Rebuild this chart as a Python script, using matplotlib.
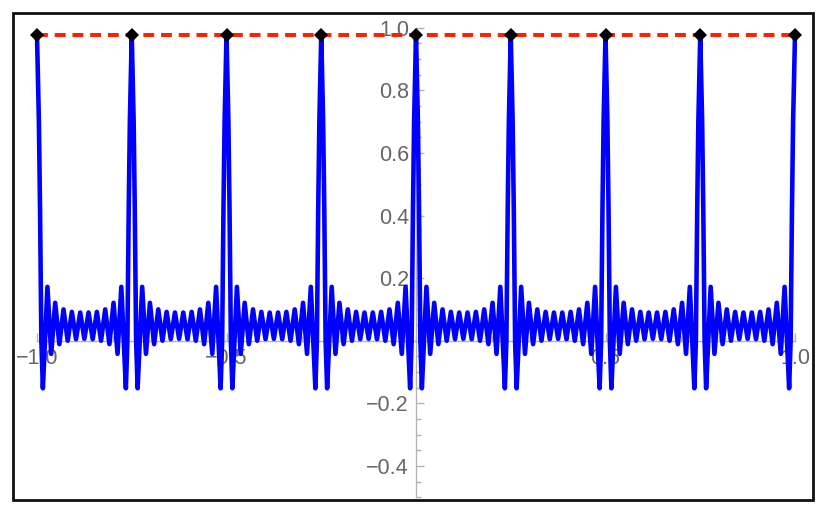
import numpy as np
import matplotlib
matplotlib.use("Agg")
import matplotlib.pyplot as plt
from matplotlib.patches import Rectangle
from matplotlib.ticker import FixedLocator, MultipleLocator

plt.rcParams['font.family'] = ['Liberation Sans', 'DejaVu Sans']

# peak positions and the level reached by each peak
peak_x = [-1.0, -0.75, -0.5, -0.25, 0.0, 0.25, 0.5, 0.75, 1.0]
peak_y = 0.977

# one period of the blue curve (offset from a peak, value)
period_dx = [0.0, 0.005, 0.008, 0.0115, 0.0155, 0.0275, 0.0375, 0.048, 0.059,
             0.070, 0.081, 0.092, 0.103, 0.114, 0.125, 0.136, 0.147, 0.158,
             0.169, 0.180, 0.191, 0.202, 0.2125, 0.2225, 0.2345, 0.2385,
             0.242, 0.245]
period_y = [0.977, 0.70, 0.42, 0.0, -0.152, 0.172, -0.042, 0.121, -0.011,
            0.100, 0.000, 0.092, 0.005, 0.090, 0.006, 0.090, 0.005, 0.092,
            0.000, 0.100, -0.011, 0.121, -0.042, 0.172, -0.152, 0.0,
            0.42, 0.70]

xticks = [-1.0, -0.5, 0.5, 1.0]
yticks = [-0.4, -0.2, 0.2, 0.4, 0.6, 0.8, 1.0]

# build the curve from the repeated period
xs, ys = [], []
for p in peak_x[:-1]:
    xs += [p + d for d in period_dx]
    ys += period_y
xs.append(peak_x[-1])
ys.append(peak_y)

W, H = 831, 520
fig = plt.figure(figsize=(W / 100, H / 100), dpi=100)
x0, x1 = 37, 795
y_top, y_bot = 27.7, 497.2
ax = fig.add_axes([x0 / W, (H - y_bot) / H, (x1 - x0) / W, (y_bot - y_top) / H])
ax.set_xlim(-1.0, 1.0)
ax.set_ylim(-0.5, 1.0)

ax.plot(xs, ys, color='#0000ff', lw=3.3, zorder=3, clip_on=False,
        solid_joinstyle='round')
ax.plot([-1.0, 1.0], [peak_y, peak_y], color='#ff2200', lw=2.9,
        dashes=(2.7, 1.7), zorder=3, clip_on=False)
ax.plot(peak_x, [peak_y] * len(peak_x), 'D', color='black', ms=7,
        mew=0, zorder=4, clip_on=False)

# Mathematica style axes through the origin
for s in ['top', 'right']:
    ax.spines[s].set_visible(False)
ax.spines['bottom'].set_position(('data', 0))
ax.spines['left'].set_position(('data', 0))
for s in ['bottom', 'left']:
    ax.spines[s].set_color('#b3b3b3')
    ax.spines[s].set_linewidth(1.0)

ax.xaxis.set_major_locator(FixedLocator(xticks))
ax.yaxis.set_major_locator(FixedLocator(yticks))
ax.xaxis.set_minor_locator(MultipleLocator(0.1))
ax.yaxis.set_minor_locator(MultipleLocator(0.05))
ax.set_xticklabels([f"{v:.1f}".replace('-', '\u2212') for v in xticks])
ax.set_yticklabels([f"{v:.1f}".replace('-', '\u2212') for v in yticks])
ax.tick_params(which='both', direction='in', color='#b3b3b3', width=1.0,
               labelcolor='#666666', labelsize=15.5)
ax.tick_params(which='major', length=6)
ax.tick_params(which='minor', length=3.5)
ax.tick_params(axis='y', which='major', pad=5)
ax.tick_params(axis='x', which='major', pad=5)
ax.patch.set_visible(False)

fig.add_artist(Rectangle((13 / W, (H - 500) / H), 800 / W, 487 / H,
                         transform=fig.transFigure, fill=False,
                         edgecolor='#111111', lw=2.0))

fig.savefig("out.png", dpi=100)
